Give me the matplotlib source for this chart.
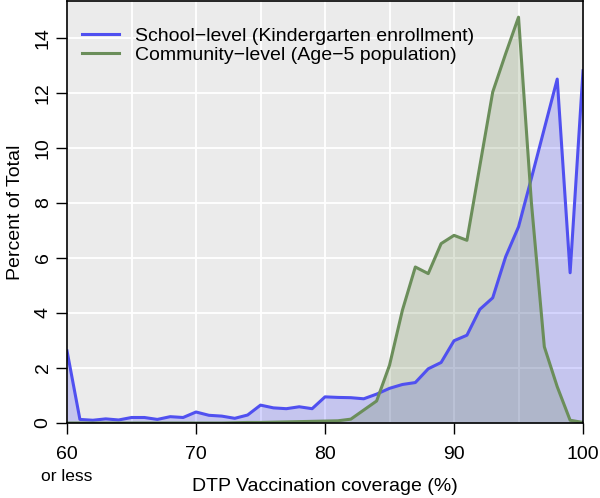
import matplotlib
matplotlib.use('Agg')
import matplotlib.pyplot as plt
import numpy as np

plt.rcParams['font.family'] = ['Liberation Sans', 'DejaVu Sans']

# coverage bins (60 = "60 or less")
coverage = list(range(60, 101))

# percent of total, school-level (kindergarten enrollment)
school = [2.62, 0.13, 0.10, 0.15, 0.11, 0.20, 0.20, 0.13, 0.23, 0.20,
          0.40, 0.28, 0.25, 0.17, 0.29, 0.65, 0.55, 0.52, 0.59, 0.52,
          0.95, 0.93, 0.92, 0.88, 1.05, 1.26, 1.40, 1.47, 1.97, 2.20,
          2.99, 3.19, 4.13, 4.55, 6.04, 7.13, 8.90, 10.70, 12.50, 5.46,
          12.80]

# percent of total, community-level (age-5 population)
community = [0.00, 0.00, 0.00, 0.00, 0.00, 0.00, 0.00, 0.00, 0.00, 0.00,
             0.00, 0.00, 0.00, 0.01, 0.02, 0.02, 0.03, 0.04, 0.05, 0.06,
             0.07, 0.08, 0.14, 0.47, 0.80, 2.10, 4.10, 5.67, 5.43, 6.52,
             6.82, 6.64, 9.34, 12.03, 13.42, 14.75, 8.00, 2.77, 1.32, 0.10,
             0.02]

blue = '#5050f0'
green = '#6b8e5a'

fig = plt.figure(figsize=(6, 4.98), dpi=100)
ax = fig.add_axes([0.1117, 0.1506, 0.86, 0.8464])
ax.set_facecolor('#ebebeb')

ax.fill_between(coverage, school, 0, color='#3030ff', alpha=0.2, lw=0)
ax.fill_between(coverage, community, 0, color='#5a7a3a', alpha=0.2, lw=0)
ax.plot(coverage, school, color=blue, lw=2.2, label='School\u2212level (Kindergarten enrollment)')
ax.plot(coverage, community, color=green, lw=2.2, label='Community\u2212level (Age\u22125 population)')

ax.set_xlim(60, 100)
ax.set_ylim(0, 15.32)
ax.set_xticks([60, 70, 80, 90, 100])
ax.set_xticks(np.arange(60, 101, 5), minor=True)
ax.set_yticks(np.arange(0, 15, 2))
ax.grid(True, which='both', color='white', lw=1.3)
ax.set_axisbelow(True)
ax.tick_params(which='minor', length=0)
ax.tick_params(which='major', direction='out', length=8, width=1, labelsize=14)
ax.tick_params(axis='x', pad=8.5)
ax.tick_params(axis='y', pad=3)
for lab in ax.get_yticklabels():
    lab.set_rotation(90)
    lab.set_va('center')
for s in ax.spines.values():
    s.set_linewidth(1.2)

ax.text(60, -0.126, 'or less', transform=ax.get_xaxis_transform(),
        ha='center', va='center', fontsize=12.5)
ax.set_xlabel('DTP Vaccination coverage (%)', fontsize=14, labelpad=11)
ax.set_ylabel('Percent of Total', fontsize=14, labelpad=8)

ax.legend(loc='upper left', bbox_to_anchor=(0.014, 0.958), borderaxespad=0,
          frameon=False, fontsize=14, handlelength=1.9, handletextpad=0.8,
          labelspacing=0.1)

fig.savefig('out.png', dpi=100)
